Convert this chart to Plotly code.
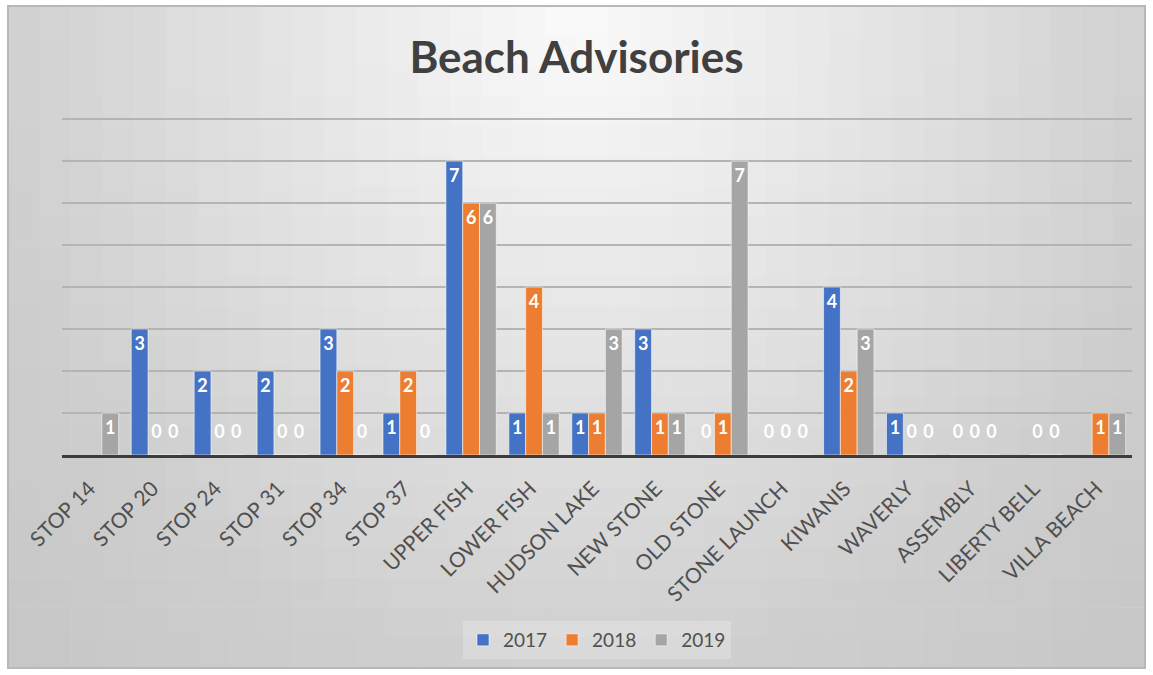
import math
import plotly.graph_objects as go

categories = ["STOP 14", "STOP 20", "STOP 24", "STOP 31", "STOP 34", "STOP 37",
              "UPPER FISH", "LOWER FISH", "HUDSON LAKE", "NEW STONE", "OLD STONE",
              "STONE LAUNCH", "KIWANIS", "WAVERLY", "ASSEMBLY", "LIBERTY BELL", "VILLA BEACH"]
v2017 = [None, 3, 2, 2, 3, 1, 7, 1, 1, 3, 0, 0, 4, 1, 0, None, None]
v2018 = [None, 0, 0, 0, 2, 2, 6, 4, 1, 1, 1, 0, 2, 0, 0, 0, 1]
v2019 = [1, 0, 0, 0, 0, 0, 6, 1, 3, 1, 7, 0, 3, 0, 0, 0, 1]
series_names = ["2017", "2018", "2019"]
series_values = [v2017, v2018, v2019]
colors = ["#4472C4", "#ED7D31", "#A5A5A5"]

W, H = 1153, 675
L, R, T, B = 62, 1132, 117, 455
YMAX = 8.05
LABEL_SIZE = 18


def px_to_paper(px, py):
    return (px - L) / (R - L), (B - py) / (B - T)


fig = go.Figure()
for name, vals, col in zip(series_names, series_values, colors):
    texts, pos, sizes = [], [], []
    for v in vals:
        if v is None:
            texts.append("")
            pos.append("inside")
            sizes.append(LABEL_SIZE)
        elif v == 0:
            texts.append(f"<span style='font-size:{LABEL_SIZE}px'>0</span><br>\u00a0")
            pos.append("outside")
            sizes.append(9)
        else:
            texts.append(str(v))
            pos.append("inside")
            sizes.append(LABEL_SIZE)
    fig.add_trace(go.Bar(
        name=name, x=categories, y=vals, text=texts, textposition=pos,
        texttemplate="%{text}", insidetextanchor="end",
        marker=dict(color=col, line=dict(color="rgba(255,255,255,0.55)", width=1)),
        textfont=dict(color="white", size=sizes, family="Lato", weight="bold"),
        cliponaxis=False, constraintext="none",
    ))

# background gradient + frame
shapes = []
fx0, fy0, fx1, fy1 = 8, 6, 1145, 668
nx, ny = 36, 22
for i in range(nx):
    for j in range(ny):
        ax = fx0 + (fx1 - fx0) * i / nx
        bx = fx0 + (fx1 - fx0) * (i + 1) / nx
        ay = fy0 + (fy1 - fy0) * j / ny
        by = fy0 + (fy1 - fy0) * (j + 1) / ny
        cx, cy = (ax + bx) / 2, (ay + by) / 2
        r = math.sqrt(((cx - 580) / 600) ** 2 + ((cy - 20) / 660) ** 2)
        c = int(round(250 - 44 * min(r, 1) - 22 * max(r - 1, 0)))
        p0 = px_to_paper(ax, by)
        p1 = px_to_paper(bx + 0.6, ay - 0.6)
        shapes.append(dict(type="rect", xref="paper", yref="paper", layer="below",
                           x0=p0[0], y0=p0[1], x1=p1[0], y1=p1[1],
                           fillcolor=f"rgb({c},{c},{c})", line=dict(width=0)))
q0 = px_to_paper(fx0, fy1)
q1 = px_to_paper(fx1, fy0)
shapes.append(dict(type="rect", xref="paper", yref="paper", layer="below",
                   x0=q0[0], y0=q0[1], x1=q1[0], y1=q1[1],
                   fillcolor="rgba(0,0,0,0)", line=dict(color="#b8b8b8", width=2)))

fig.update_layout(
    width=W, height=H,
    margin=dict(l=L, r=W - R, t=T, b=H - B, autoexpand=False),
    paper_bgcolor="white", plot_bgcolor="rgba(0,0,0,0)",
    barmode="group", bargap=0.2, bargroupgap=0.0,
    shapes=shapes,
    title=dict(text="<b>Beach Advisories</b>", x=0.5, xanchor="center",
               y=1 - 58 / H, yanchor="middle",
               font=dict(family="Lato", size=44, color="#404040")),
    xaxis=dict(type="category", tickangle=-45, showgrid=False, ticks="",
               tickfont=dict(family="Lato", size=21, color="#505050"),
               ticklabelstandoff=10, ticklabelshift=-4,
               showline=True, linecolor="#3c3c3c", linewidth=3,
               layer="above traces", automargin=False),
    yaxis=dict(range=[0, YMAX], dtick=1, showticklabels=False, showgrid=True,
               gridcolor="#b4b4b4", gridwidth=1.5, zeroline=False,
               automargin=False),
    legend=dict(orientation="h", x=0.5, xanchor="center", y=(B - 640) / (B - T),
                yanchor="middle", bgcolor="rgba(255,255,255,0.22)",
                font=dict(family="Lato", size=19, color="#505050"),
                itemwidth=30, traceorder="normal"),
    showlegend=True,
)

fig.write_html("out.html", config={"displayModeBar": False},
               post_script="document.body.style.margin='0';")
